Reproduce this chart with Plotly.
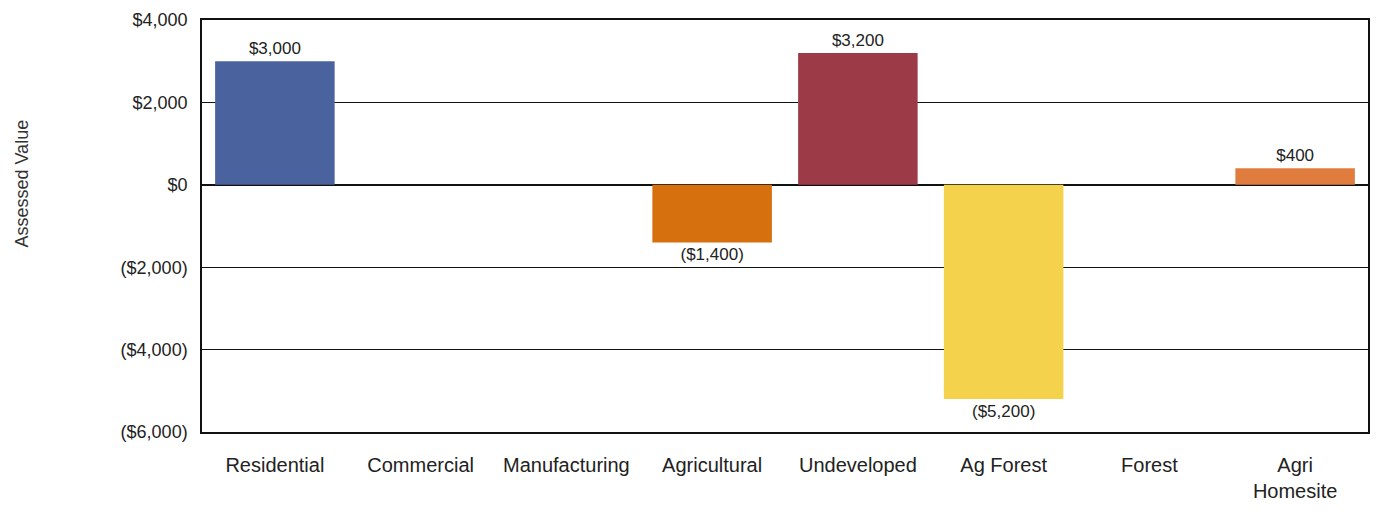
import plotly.graph_objects as go

categories = ["Residential", "Commercial", "Manufacturing", "Agricultural",
              "Undeveloped", "Ag Forest", "Forest", "Agri<br>Homesite"]
values = [3000, 0, 0, -1400, 3200, -5200, 0, 400]
labels = ["$3,000", "", "", "($1,400)", "$3,200", "($5,200)", "", "$400"]
colors = ["#4a639e", "#4a639e", "#4a639e", "#d6700e", "#9c3b47", "#f5d24c", "#f5d24c", "#e07d3e"]
tick_vals = [4000, 2000, 0, -2000, -4000, -6000]
tick_text = ["$4,000", "$2,000", "$0", "($2,000)", "($4,000)", "($6,000)"]

FONT = "Liberation Sans Narrow, Arial Narrow, Liberation Sans, Arial, sans-serif"

fig = go.Figure(go.Bar(
    x=categories, y=values, marker_color=colors, marker_line_width=0,
    text=labels, textposition="outside", cliponaxis=False,
    textfont=dict(family=FONT, size=17, color="#222"),
    width=0.82,
))

fig.update_layout(
    width=1379, height=517,
    margin=dict(l=194, r=19, t=12, b=93, autoexpand=False),
    paper_bgcolor="white", plot_bgcolor="white",
    showlegend=False,
    font=dict(family=FONT, size=18, color="#222"),
    annotations=[dict(
        text="Assessed Value", textangle=-90,
        xref="paper", yref="paper", x=-0.154, y=0.604,
        xanchor="center", yanchor="middle", showarrow=False,
        font=dict(size=18, color="#333"),
    )],
)
fig.update_yaxes(
    range=[-6000, 4000], tickvals=tick_vals, ticktext=tick_text,
    showgrid=True, gridcolor="#111", gridwidth=1,
    showline=True, linecolor="#111", linewidth=1.5, mirror=True,
    zeroline=True, zerolinecolor="#111", zerolinewidth=1.6,
    ticks="", ticklen=0, ticklabelstandoff=9, automargin=False,
    tickfont=dict(size=18),
)
fig.update_xaxes(
    showline=True, linecolor="#111", linewidth=1.5, mirror=True,
    showgrid=False, ticks="", tickfont=dict(size=20),
    ticklabelstandoff=14, automargin=False,
)

fig.write_html("out.html")
